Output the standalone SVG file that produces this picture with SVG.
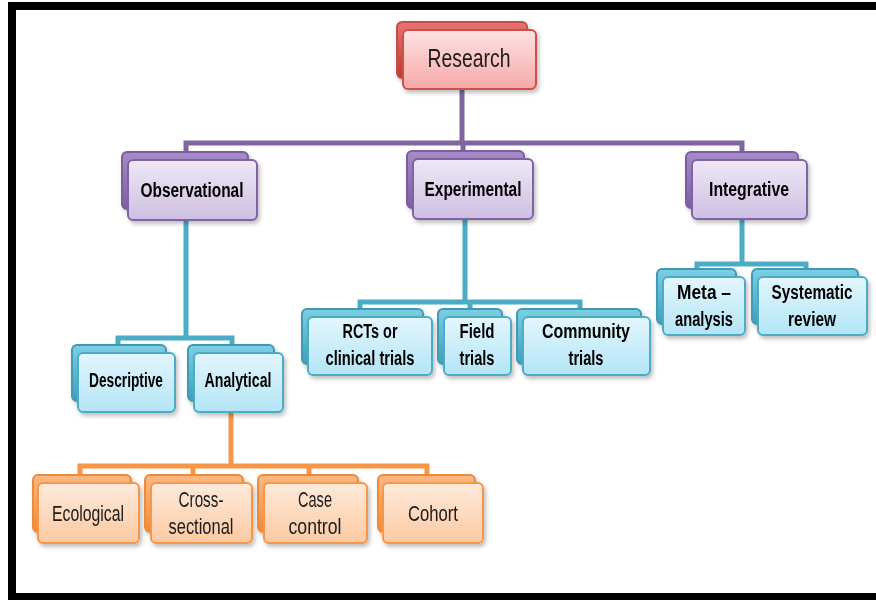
<svg xmlns="http://www.w3.org/2000/svg" width="876" height="600" viewBox="0 0 876 600">
<defs>
<linearGradient id="gRedF" x1="0" y1="0" x2="0" y2="1"><stop offset="0" stop-color="#fde3e3"/><stop offset="1" stop-color="#f6a8a8"/></linearGradient>
<linearGradient id="gRedB" x1="0" y1="0" x2="0" y2="1"><stop offset="0" stop-color="#e57373"/><stop offset="1" stop-color="#c0392b"/></linearGradient>
<linearGradient id="gPurF" x1="0" y1="0" x2="0" y2="1"><stop offset="0" stop-color="#eee8f6"/><stop offset="1" stop-color="#cdbfe2"/></linearGradient>
<linearGradient id="gPurB" x1="0" y1="0" x2="0" y2="1"><stop offset="0" stop-color="#a68bc8"/><stop offset="1" stop-color="#7b5fa0"/></linearGradient>
<linearGradient id="gCyaF" x1="0" y1="0" x2="0" y2="1"><stop offset="0" stop-color="#e3f6fd"/><stop offset="1" stop-color="#b3e5f6"/></linearGradient>
<linearGradient id="gCyaB" x1="0" y1="0" x2="0" y2="1"><stop offset="0" stop-color="#7ccfe3"/><stop offset="1" stop-color="#3e9fba"/></linearGradient>
<linearGradient id="gOraF" x1="0" y1="0" x2="0" y2="1"><stop offset="0" stop-color="#feeadb"/><stop offset="1" stop-color="#fbc9a2"/></linearGradient>
<linearGradient id="gOraB" x1="0" y1="0" x2="0" y2="1"><stop offset="0" stop-color="#fbb984"/><stop offset="1" stop-color="#ef8a3a"/></linearGradient>
<filter id="sh" x="-10%" y="-10%" width="125%" height="135%"><feDropShadow dx="2" dy="3" stdDeviation="2" flood-color="#000" flood-opacity="0.25"/></filter>
</defs>
<style>
.frame{fill:#000}
.node{filter:url(#sh)}
.back,.front{rx:5px;ry:5px;stroke-width:2}
.red .front{fill:url(#gRedF);stroke:#d0504d}
.red .back{fill:url(#gRedB);stroke:#c0504d}
.pur .front{fill:url(#gPurF);stroke:#8064a2}
.pur .back{fill:url(#gPurB);stroke:#7a5e9c}
.cya .front{fill:url(#gCyaF);stroke:#4bacc6}
.cya .back{fill:url(#gCyaB);stroke:#409ab3}
.ora .front{fill:url(#gOraF);stroke:#f79646}
.ora .back{fill:url(#gOraB);stroke:#ee8a3a}
text{font-family:"Liberation Sans",Arial,sans-serif;text-anchor:middle;fill:#000}
.b{font-weight:bold;font-size:20px}
.r{font-size:22px;fill:#1a1a1a}
.t{font-size:25px;fill:#1a1a1a}
.c{fill:none;stroke-width:5;stroke-linejoin:miter;stroke-linecap:butt}
.cp{stroke:#8064a2}
.cc{stroke:#4bacc6}
.co{stroke:#f79646}
</style>
<rect width="876" height="600" fill="#fff"/>
<g id="frame">
<rect class="frame" x="8" y="2" width="868" height="8"/>
<rect class="frame" x="8" y="2" width="8" height="598"/>
<rect class="frame" x="8" y="593" width="868" height="7"/>
</g>
<g id="connectors">
<path class="c cp" d="M462 89V143M186 152V143H742V152M463 143V152"/>
<path class="c cc" d="M186 220V338M118 346V338H232V346"/>
<path class="c cc" d="M465 219V302M360 308V302H580V308M470 302V308"/>
<path class="c cc" d="M742 219V264M697 270V264H806V270"/>
<path class="c co" d="M231 412V466M80 476V466H427V476M193 466V476M309 466V476"/>
</g>
<g id="research" class="node red">
<rect class="back" x="397" y="22" width="130" height="56"/>
<rect class="front" x="403" y="30" width="133" height="59"/>
<text class="t" x="469" y="67" textLength="83" lengthAdjust="spacingAndGlyphs">Research</text>
</g>
<g id="observational" class="node pur">
<rect class="back" x="122" y="152" width="126" height="57"/>
<rect class="front" x="128" y="160" width="129" height="60"/>
<text class="b" x="192" y="197" textLength="103" lengthAdjust="spacingAndGlyphs">Observational</text>
</g>
<g id="experimental" class="node pur">
<rect class="back" x="407" y="151" width="117" height="57"/>
<rect class="front" x="413" y="159" width="120" height="60"/>
<text class="b" x="473" y="196" textLength="97" lengthAdjust="spacingAndGlyphs">Experimental</text>
</g>
<g id="integrative" class="node pur">
<rect class="back" x="686" y="152" width="112" height="56"/>
<rect class="front" x="692" y="160" width="115" height="59"/>
<text class="b" x="749" y="196" textLength="80" lengthAdjust="spacingAndGlyphs">Integrative</text>
</g>
<g id="descriptive" class="node cya">
<rect class="back" x="72" y="345" width="94" height="56"/>
<rect class="front" x="78" y="353" width="97" height="59"/>
<text class="b" x="126" y="387" textLength="74" lengthAdjust="spacingAndGlyphs">Descriptive</text>
</g>
<g id="analytical" class="node cya">
<rect class="back" x="188" y="345" width="86" height="56"/>
<rect class="front" x="194" y="353" width="89" height="59"/>
<text class="b" x="238" y="387" textLength="67" lengthAdjust="spacingAndGlyphs">Analytical</text>
</g>
<g id="rcts" class="node cya">
<rect class="back" x="302" y="309" width="121" height="55"/>
<rect class="front" x="308" y="317" width="124" height="58"/>
<text class="b" x="370" y="338" textLength="55" lengthAdjust="spacingAndGlyphs">RCTs or</text>
<text class="b" x="370" y="365" textLength="89" lengthAdjust="spacingAndGlyphs">clinical trials</text>
</g>
<g id="field" class="node cya">
<rect class="back" x="438" y="309" width="64" height="55"/>
<rect class="front" x="444" y="317" width="67" height="58"/>
<text class="b" x="477" y="338" textLength="35" lengthAdjust="spacingAndGlyphs">Field</text>
<text class="b" x="477" y="365" textLength="35" lengthAdjust="spacingAndGlyphs">trials</text>
</g>
<g id="community" class="node cya">
<rect class="back" x="517" y="309" width="124" height="55"/>
<rect class="front" x="523" y="317" width="127" height="58"/>
<text class="b" x="586" y="338" textLength="88" lengthAdjust="spacingAndGlyphs">Community</text>
<text class="b" x="586" y="365" textLength="35" lengthAdjust="spacingAndGlyphs">trials</text>
</g>
<g id="meta" class="node cya">
<rect class="back" x="657" y="269" width="79" height="55"/>
<rect class="front" x="663" y="277" width="82" height="58"/>
<text class="b" x="704" y="299" textLength="54" lengthAdjust="spacingAndGlyphs">Meta –</text>
<text class="b" x="704" y="326" textLength="58" lengthAdjust="spacingAndGlyphs">analysis</text>
</g>
<g id="systematic" class="node cya">
<rect class="back" x="752" y="269" width="106" height="55"/>
<rect class="front" x="758" y="277" width="109" height="58"/>
<text class="b" x="812" y="299" textLength="81" lengthAdjust="spacingAndGlyphs">Systematic</text>
<text class="b" x="812" y="326" textLength="48" lengthAdjust="spacingAndGlyphs">review</text>
</g>
<g id="ecological" class="node ora">
<rect class="back" x="33" y="475" width="98" height="57"/>
<rect class="front" x="38" y="483" width="101" height="60"/>
<text class="r" x="88" y="521" textLength="72" lengthAdjust="spacingAndGlyphs">Ecological</text>
</g>
<g id="cross" class="node ora">
<rect class="back" x="145" y="475" width="98" height="57"/>
<rect class="front" x="151" y="483" width="101" height="60"/>
<text class="r" x="201" y="507" textLength="45" lengthAdjust="spacingAndGlyphs">Cross-</text>
<text class="r" x="201" y="534" textLength="65" lengthAdjust="spacingAndGlyphs">sectional</text>
</g>
<g id="case" class="node ora">
<rect class="back" x="258" y="475" width="100" height="57"/>
<rect class="front" x="264" y="483" width="103" height="60"/>
<text class="r" x="315" y="507" textLength="34" lengthAdjust="spacingAndGlyphs">Case</text>
<text class="r" x="315" y="534" textLength="53" lengthAdjust="spacingAndGlyphs">control</text>
</g>
<g id="cohort" class="node ora">
<rect class="back" x="378" y="475" width="97" height="57"/>
<rect class="front" x="383" y="483" width="100" height="60"/>
<text class="r" x="433" y="521" textLength="50" lengthAdjust="spacingAndGlyphs">Cohort</text>
</g>
</svg>
